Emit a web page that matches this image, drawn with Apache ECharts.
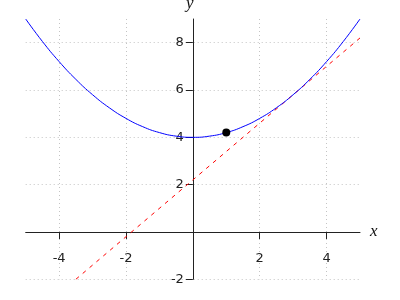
<!DOCTYPE html>
<html>
<head>
<meta charset="utf-8">
<script src="https://cdn.jsdelivr.net/npm/echarts@6/dist/echarts.min.js"></script>
<style>html,body{margin:0;padding:0;background:#fff}#c{width:400px;height:300px}</style>
</head>
<body>
<div id="c"></div>
<script>
// Curve samples (x, y)
const curveX = [-5,-4.5,-4,-3.5,-3,-2.5,-2,-1.5,-1,-0.5,0,0.5,1,1.5,2,2.5,3,3.5,4,4.5,5];
const curveY = [9,8.05,7.2,6.45,5.8,5.25,4.8,4.45,4.2,4.05,4,4.05,4.2,4.45,4.8,5.25,5.8,6.45,7.2,8.05,9];
// Dashed tangent line end points
const lineX = [-3.5, 5];
const lineY = [-2, 8.2];
// Marked point
const pointX = [1];
const pointY = [4.2];
// Tick values
const xTicks = [-4,-2,2,4];
const yTicks = [-2,2,4,6,8];
const xRange = [-5, 5];
const yRange = [-2, 9];

const zip = (a,b) => a.map((v,i)=>[v,b[i]]);
const chart = echarts.init(document.getElementById('c'), null, {renderer:'canvas'});
const labelStyle = {color:'#222', fontFamily:'DejaVu Sans', fontSize:13};
const G = {left:25.7, right:40, top:19, bottom:20.7};
const gw = 400 - G.left - G.right, gh = 300 - G.top - G.bottom;
// offsets that move the label-only axes onto the zero lines
const xOff = -gh * (0 - yRange[0]) / (yRange[1] - yRange[0]);
const yOff = -gw * (0 - xRange[0]) / (xRange[1] - xRange[0]);
const hidden = {axisLine:{show:false}, axisTick:{show:false}, splitLine:{show:false}};
const nameStyle = {fontFamily:'Liberation Serif', fontStyle:'italic', fontSize:17, color:'#111'};
chart.setOption({
  animation:false,
  grid:Object.assign({containLabel:false, outerBoundsMode:'none'}, G),
  xAxis:[{
    type:'value', min:xRange[0], max:xRange[1],
    name:'x', nameLocation:'end', nameGap:10,
    nameTextStyle:Object.assign({verticalAlign:'middle'}, nameStyle),
    axisLine:{onZero:true, lineStyle:{color:'#222', width:1}},
    axisTick:{show:true, length:7, customValues:xTicks, lineStyle:{color:'#222'}},
    axisLabel:{show:false},
    splitLine:{show:true, lineStyle:{color:'#c4c4c4', type:[1,3], width:1}}
  },{
    type:'value', min:xRange[0], max:xRange[1], position:'bottom', offset:xOff,
    axisLabel:Object.assign({customValues:xTicks, margin:20}, labelStyle)
  , ...hidden}],
  yAxis:[{
    type:'value', min:yRange[0], max:yRange[1],
    name:'y', nameLocation:'end', nameGap:15,
    nameTextStyle:Object.assign({align:'center', verticalAlign:'middle', padding:[0,6,0,0]}, nameStyle),
    axisLine:{onZero:true, lineStyle:{color:'#222', width:1}},
    axisTick:{show:true, length:7, customValues:yTicks, lineStyle:{color:'#222'}},
    axisLabel:{show:false},
    splitLine:{show:true, lineStyle:{color:'#c4c4c4', type:[1,3], width:1}}
  },{
    type:'value', min:yRange[0], max:yRange[1], position:'left', offset:yOff,
    axisLabel:Object.assign({customValues:yTicks, margin:9}, labelStyle)
  , ...hidden}],
  series:[
    {type:'line', data:zip(curveX,curveY), smooth:true, showSymbol:false, symbol:'none',
     lineStyle:{color:'#0000ff', width:1}, z:3},
    {type:'line', data:zip(lineX,lineY), showSymbol:false, symbol:'none',
     lineStyle:{color:'#ff0000', width:1, type:[4,5]}, z:2},
    {type:'scatter', data:zip(pointX,pointY), symbolSize:8, itemStyle:{color:'#000', opacity:1}, z:4}
  ]
});
</script>
</body>
</html>
